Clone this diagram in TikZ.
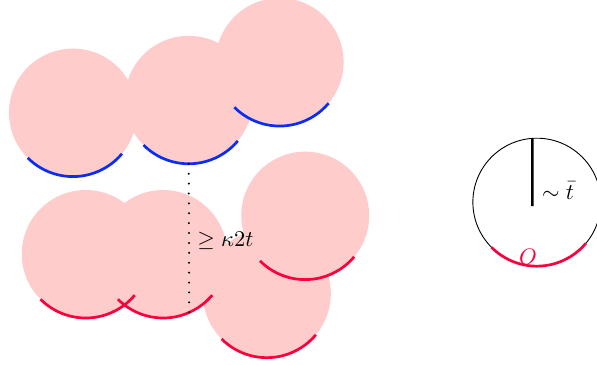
\documentclass[tikz,border=0pt]{standalone}
\usepackage{tikz}
\usetikzlibrary{positioning}
\definecolor{arcblue}{RGB}{10,45,245}
\definecolor{arcred}{RGB}{250,0,60}
\begin{document}
\begin{tikzpicture}[
 ballnode/.style={circle, fill=red!20, draw=none, minimum size=2cm, inner sep=0pt, outer sep=0pt},
 ringnode/.style={circle, draw=black, thin, minimum size=2cm, inner sep=0pt, outer sep=0pt},
 bluearc/.style={draw=arcblue, line width=1.2pt},
 redarc/.style={draw=arcred, line width=1.2pt}
 ]
 \useasboundingbox (0,0) rectangle (9.33,5.70);

 %Nodes
 \node[ballnode] (c1) at (1.14,3.94) {};
 \node[ballnode] (c2) at (2.95,4.14) {};
 \node[ballnode] (c3) at (4.37,4.73) {};
 \node[ballnode] (c4) at (1.34,1.73) {};
 \node[ballnode] (c5) at (2.55,1.73) {};
 \node[ballnode] (c6) at (4.17,1.11) {};
 \node[ballnode] (c7) at (4.77,2.33) {};

 \node[ringnode] (rc) at (8.39,2.54) {};
 \coordinate (tbot) at (8.32,2.48);

 %Arcs
 \draw[bluearc] (c1.225) arc[start angle=225, end angle=320, radius=1cm];
 \draw[bluearc] (c2.225) arc[start angle=225, end angle=320, radius=1cm];
 \draw[bluearc] (c3.225) arc[start angle=225, end angle=320, radius=1cm];
 \draw[redarc] (c4.225) arc[start angle=225, end angle=320, radius=1cm];
 \draw[redarc] (c5.225) arc[start angle=225, end angle=320, radius=1cm];
 \draw[redarc] (c6.225) arc[start angle=225, end angle=320, radius=1cm];
 \draw[redarc] (c7.225) arc[start angle=225, end angle=320, radius=1cm];
 \draw[redarc] (rc.225) arc[start angle=225, end angle=320, radius=1cm];

 %Lines
 \draw[line width=1pt, line cap=round, dash pattern=on 0pt off 4.4pt] (c2.south) -- (c5.-66);
 \draw[line width=1.2pt] (rc.94) -- (tbot);

 %Labels
 \node (gap_lbl) [anchor=west] at (2.96,1.94) {$\geq \kappa 2t$};
 \node (t_lbl) at (8.72,2.72) {$\sim \bar{t}$};
 \node[text=arcred] (o_lbl) at (8.25,1.69) {$O$};
\end{tikzpicture}
\end{document}
